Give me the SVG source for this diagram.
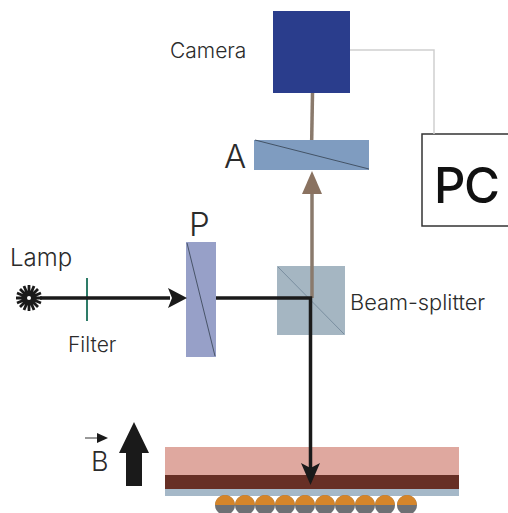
<svg xmlns="http://www.w3.org/2000/svg" width="508" height="513" viewBox="0 0 508 513">
<style>
text{font-family:"Inter","Liberation Sans",sans-serif;fill:#2b2b2b;font-weight:300}
.d{stroke:#33404f;stroke-width:.8;fill:none}
.k{stroke:#1a1a1a;stroke-width:3.500;fill:none}
.b{stroke:#8a7a6c;stroke-width:3.500;fill:none}
</style>
<defs>
<g id="bd"><circle cx="0" cy="505" r="10" fill="#6e7074"/><path d="M-9.800 503A10 10 0 0 1 -8 499C-5 496 -3 495 0 495S5 496 8 499A10 10 0 0 1 9.800 505H-9.800Z" fill="#d5852a"/></g>
</defs>
<rect width="508" height="513" fill="#fff"/>
<g id="sample">
<rect x="165" y="447" width="294" height="28" fill="#dfa89f"/>
<rect x="165" y="475" width="294" height="14" fill="#672f25"/>
<rect x="165" y="489" width="294" height="7" fill="#a5b8c8"/>
<g id="beads">
<use href="#bd" x="225"/><use href="#bd" x="245"/><use href="#bd" x="265"/><use href="#bd" x="285"/><use href="#bd" x="305"/><use href="#bd" x="325"/><use href="#bd" x="345"/><use href="#bd" x="365"/><use href="#bd" x="385"/><use href="#bd" x="407"/>
</g>
</g>
<g id="camera"><rect x="273" y="11" width="77" height="82" fill="#2a3d8c"/><text x="170" y="58" font-size="21">Camera</text></g>
<g id="analyzer"><rect x="254" y="140" width="115" height="30" fill="#7f9cc0"/><path class="d" d="M255 140L369 169"/><text x="224" y="168" font-size="33">A</text></g>
<g id="pc"><rect x="422" y="134" width="90" height="92" fill="#fff" stroke="#333" stroke-width="1.500"/><text x="434" y="203" font-size="49" letter-spacing="-1.500" style="font-weight:500;fill:#111">PC</text></g>
<g id="polarizer"><rect x="186" y="242" width="30" height="115" fill="#97a0c8"/><path class="d" d="M187 243L215 356"/><text x="189" y="236" font-size="33">P</text></g>
<g id="splitter"><rect x="277" y="266" width="68" height="69" fill="#a5b6c2"/><path d="M278 267L344 334" stroke="#6f8497" stroke-width=".8" fill="none"/><text x="350" y="310" font-size="21.800">Beam-splitter</text></g>
<g id="lamp"><path d="M16 298H42M29 285V311M20 289L38 307M38 289L20 307M17 293L41 303M17 303L41 293M24 286L34 310M34 286L24 310" stroke="#1a1a1a" stroke-width="2.800"/><circle cx="29" cy="298" r="2" fill="#fff"/><text x="10" y="266" font-size="24">Lamp</text></g>
<g id="filter"><path d="M87 278V321" stroke="#2e7c68" stroke-width="2" fill="none"/><text x="68" y="352" font-size="21">Filter</text></g>
<g id="field"><path d="M134 422L149 453H142V486H126V453H119Z" fill="#1a1a1a"/><path d="M85 438H100" stroke="#333" stroke-width="1"/><path d="M97 433L108 438L97 443Z" fill="#1a1a1a"/><text x="91" y="471" font-size="27">B</text></g>
<g id="connectors">
<path d="M350 50H434V134" fill="none" stroke="#cfcfcf" stroke-width="1.500"/>
<path class="b" d="M312.500 93L311.700 140"/>
<path class="b" d="M312 187V298"/>
<path d="M312 171L322 194H302Z" fill="#8a7260"/>
<path class="k" d="M40 298H170"/>
<path d="M187 298L168 288L172 298L168 308Z" fill="#1a1a1a"/>
<path class="k" d="M216 298H310.500V470"/>
<path d="M310.500 485L301 463L310.500 468L320 463Z" fill="#1a1a1a"/>
</g>
</svg>
